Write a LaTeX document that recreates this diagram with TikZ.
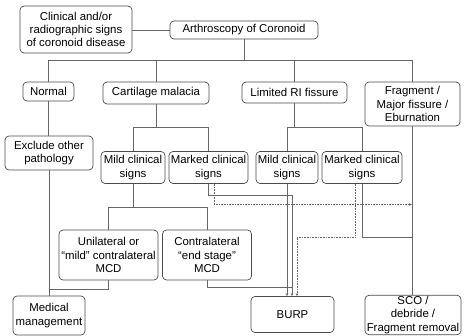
\documentclass[tikz,border=0pt]{standalone}
\usepackage{fontspec}
\setmainfont{Liberation Sans}
\usetikzlibrary{arrows.meta}
\definecolor{boxc}{HTML}{4A4A4A}
\definecolor{linec}{HTML}{666666}
\begin{document}
\begin{tikzpicture}[x=1pt,y=-1pt,
  box/.style={draw=boxc, rounded corners=4pt, line width=0.7pt, align=center,
    inner sep=1pt, font=\fontsize{11.4}{13.4}\selectfont, text=black},
  conn/.style={draw=linec, line width=0.8pt},
  dots/.style={draw=linec, line width=0.6pt, densely dotted},
  tip/.style={-{Stealth[length=3pt,width=2.6pt]}}]
\useasboundingbox (0,0) rectangle (466,336);

% nodes
\node[box, minimum width=112pt, minimum height=47pt] (clin) at (76,29.5) {Clinical and/or\\radiographic signs\\of coronoid disease};
\node[box, minimum width=148pt, minimum height=18pt] (arth) at (244,30) {Arthroscopy of Coronoid};
\node[box, minimum width=51pt, minimum height=19pt] (normal) at (48.5,91.5) {Normal};
\node[box, minimum width=106pt, minimum height=22pt] (cart) at (156,93) {Cartilage malacia};
\node[box, minimum width=105pt, minimum height=21pt] (lri) at (294.5,92.5) {Limited RI fissure};
\node[box, minimum width=95pt, minimum height=44pt] (frag) at (412.5,104) {Fragment /\\Major fissure /\\Eburnation};
\node[box, minimum width=88pt, minimum height=34pt] (excl) at (49,153) {Exclude other\\pathology};
\node[box, minimum width=64pt, minimum height=32pt] (mild1) at (133,167.5) {Mild clinical\\signs};
\node[box, minimum width=79pt, minimum height=32pt] (mark1) at (208.5,167.5) {Marked clinical\\signs};
\node[box, minimum width=62pt, minimum height=32pt] (mild2) at (287,167.5) {Mild clinical\\signs};
\node[box, minimum width=80pt, minimum height=32pt] (mark2) at (362,167.5) {Marked clinical\\signs};
\node[box, minimum width=99pt, minimum height=50pt] (unil) at (108.5,255) {Unilateral or\\“mild” contralateral\\MCD};
\node[box, minimum width=89pt, minimum height=50pt] (contra) at (207,255) {Contralateral\\“end stage”\\MCD};
\node[box, minimum width=72pt, minimum height=39pt] (med) at (49,315.5) {Medical\\management};
\node[box, minimum width=83pt, minimum height=36pt] (burp) at (292.5,314.5) {BURP};
\node[box, minimum width=96pt, minimum height=38pt] (sco) at (413,315) {SCO /\\debride /\\Fragment removal};

% helper coordinates
\coordinate (y60) at (0,60.5);
\coordinate (y127) at (0,127);
\coordinate (y207) at (0,207);
\coordinate (y289) at (0,289);
\coordinate (y287) at (0,287);
\coordinate (y204) at (0,204.5);
\coordinate (y237) at (0,237);
\coordinate (bj) at (292,195.5);
\coordinate (b3) at (297,0);

% connectors
\draw[conn] (clin.east |- arth.west) -- (arth.west);
\draw[conn] (arth.south) -- (arth.south |- y60);
\draw[conn] (normal.north) -- (normal.north |- y60) -| (frag.north);
\draw[conn] (cart.north) -- (cart.north |- y60);
\draw[conn] (lri.north) -- (lri.north |- y60);
\draw[conn] (normal.south) -- (normal.south |- excl.north);
\draw[conn] (cart.south) -- (cart.south |- y127);
\draw[conn] (mild1.north) -- (mild1.north |- y127) -| (mark1.north);
\draw[conn] (lri.south) -- (lri.south |- y127);
\draw[conn] (mild2.north) -- (mild2.north |- y127) -| (mark2.north);
\draw[conn] (excl.south) -- (excl.south |- med.north);
\draw[conn] (mild1.south) -- (mild1.south |- y207);
\draw[conn] (unil.north) -- (unil.north |- y207) -| (contra.north);
\draw[conn] (unil.south) |- (excl.south |- y289);
\draw[conn] (contra.south) |- (bj |- y287);
\draw[conn, tip] (mark1.south) |- (bj) -- (bj |- burp.north);
\draw[dots, tip] ([xshift=5.5pt]mark1.south) |- ([xshift=-0.6pt]frag.south |- y204);
\draw[conn, tip] (mild2.south) -- (mild2.south |- burp.north);
\draw[dots, tip] ([xshift=-7pt]mark2.south) |- (b3 |- y237) -- (b3 |- burp.north);
\draw[conn] (mark2.south) |- (frag.south |- y237);
\draw[conn] (frag.south) -- (frag.south |- sco.north);
\end{tikzpicture}
\end{document}
